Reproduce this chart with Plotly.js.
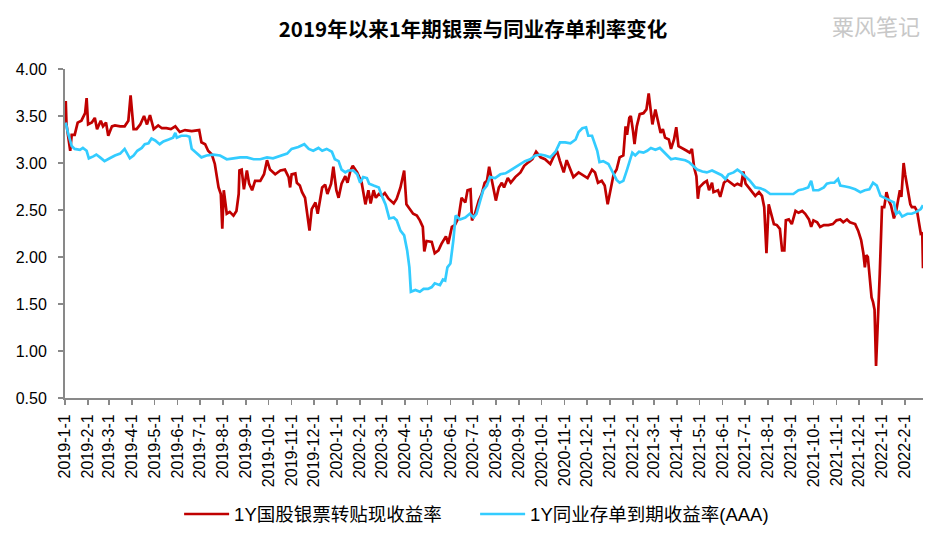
<!DOCTYPE html>
<html>
<head>
<meta charset="utf-8">
<script src="https://cdn.plot.ly/plotly-3.0.1.min.js"></script>
<style>
html,body{margin:0;padding:0;background:#fff;}
#chart{width:946px;height:546px;}
</style>
</head>
<body>
<div id="chart"></div>
<script>
// ---- data ----
const seriesNames = ['1Y国股银票转贴现收益率', '1Y同业存单到期收益率(AAA)'];

const billDates = [
'2019-01-02','2019-01-03','2019-01-08','2019-01-10','2019-01-14','2019-01-18','2019-01-23','2019-01-28','2019-01-30',
'2019-02-01','2019-02-06','2019-02-10','2019-02-13','2019-02-18','2019-02-21','2019-02-25','2019-02-28',
'2019-03-05','2019-03-09','2019-03-16','2019-03-22','2019-03-27','2019-03-30',
'2019-04-03','2019-04-07','2019-04-12','2019-04-17','2019-04-21','2019-04-25','2019-04-30',
'2019-05-06','2019-05-11','2019-05-17','2019-05-23','2019-05-29',
'2019-06-04','2019-06-11','2019-06-20','2019-06-30',
'2019-07-03','2019-07-08','2019-07-12','2019-07-17','2019-07-21','2019-07-26','2019-07-29','2019-07-31',
'2019-08-02','2019-08-06','2019-08-10','2019-08-15','2019-08-19','2019-08-22','2019-08-23','2019-08-26','2019-08-29',
'2019-09-02','2019-09-05','2019-09-09','2019-09-13','2019-09-20','2019-09-25','2019-09-29',
'2019-10-03','2019-10-10','2019-10-17','2019-10-23','2019-10-28','2019-10-30',
'2019-11-01','2019-11-06','2019-11-08','2019-11-12','2019-11-15','2019-11-19','2019-11-22','2019-11-25','2019-11-28',
'2019-12-03','2019-12-06','2019-12-12','2019-12-16','2019-12-19','2019-12-24','2019-12-27','2019-12-31',
'2020-01-03','2020-01-07','2020-01-12','2020-01-15','2020-01-19','2020-01-22','2020-01-28',
'2020-02-03','2020-02-05','2020-02-08','2020-02-12','2020-02-15','2020-02-19','2020-02-22','2020-02-26',
'2020-03-01','2020-03-05','2020-03-10','2020-03-17','2020-03-21','2020-03-26','2020-03-31',
'2020-04-03','2020-04-08','2020-04-12','2020-04-17','2020-04-21','2020-04-25','2020-04-27','2020-04-30',
'2020-05-07','2020-05-11','2020-05-16','2020-05-20','2020-05-26','2020-05-29',
'2020-06-03','2020-06-07','2020-06-12','2020-06-16','2020-06-21','2020-06-24','2020-06-28','2020-06-30',
'2020-07-04','2020-07-09','2020-07-13','2020-07-17','2020-07-20','2020-07-23','2020-07-27',
'2020-08-01','2020-08-05','2020-08-09','2020-08-12','2020-08-17','2020-08-21','2020-08-27',
'2020-09-03','2020-09-08','2020-09-14','2020-09-19','2020-09-24','2020-09-30',
'2020-10-06','2020-10-13','2020-10-17','2020-10-22','2020-10-26','2020-10-31',
'2020-11-04','2020-11-09','2020-11-13','2020-11-20','2020-11-27',
'2020-12-02','2020-12-08','2020-12-12','2020-12-16','2020-12-21','2020-12-25','2020-12-29',
'2021-01-06','2021-01-10','2021-01-14','2021-01-19','2021-01-22','2021-01-24','2021-01-27','2021-01-29',
'2021-02-01','2021-02-03','2021-02-06','2021-02-10','2021-02-15','2021-02-19','2021-02-22','2021-02-24','2021-02-27',
'2021-03-03','2021-03-06','2021-03-10','2021-03-13','2021-03-16','2021-03-21','2021-03-24','2021-03-28','2021-03-31',
'2021-04-03','2021-04-08','2021-04-14','2021-04-18','2021-04-21','2021-04-24','2021-04-27','2021-04-29',
'2021-05-01','2021-05-07','2021-05-11','2021-05-14','2021-05-18','2021-05-20','2021-05-26','2021-05-29',
'2021-06-03','2021-06-07','2021-06-12','2021-06-17','2021-06-21','2021-06-26','2021-06-29',
'2021-07-02','2021-07-06','2021-07-11','2021-07-15','2021-07-20','2021-07-24','2021-07-27','2021-07-30',
'2021-08-02','2021-08-05','2021-08-09','2021-08-13','2021-08-17','2021-08-20','2021-08-23','2021-08-25','2021-08-29',
'2021-09-02','2021-09-07','2021-09-11','2021-09-16','2021-09-20','2021-09-25','2021-09-28',
'2021-10-01','2021-10-06','2021-10-10','2021-10-15','2021-10-21','2021-10-27',
'2021-11-01','2021-11-06','2021-11-10','2021-11-15','2021-11-19','2021-11-26','2021-11-30',
'2021-12-04','2021-12-07','2021-12-09','2021-12-11','2021-12-13','2021-12-16','2021-12-18','2021-12-20','2021-12-22','2021-12-24','2021-12-26','2021-12-28','2021-12-29',
'2022-01-01','2022-01-04','2022-01-07','2022-01-10','2022-01-13','2022-01-17','2022-01-20','2022-01-22','2022-01-25','2022-01-27','2022-01-30',
'2022-02-01','2022-02-05','2022-02-08','2022-02-10','2022-02-14','2022-02-17','2022-02-19','2022-02-22','2022-02-24','2022-02-25'
];
const billRates = [
3.66,3.41,3.13,3.30,3.30,3.43,3.45,3.53,3.69,
3.41,3.43,3.48,3.36,3.45,3.39,3.43,3.29,
3.39,3.40,3.39,3.39,3.45,3.72,
3.36,3.36,3.41,3.50,3.41,3.51,3.36,
3.40,3.37,3.37,3.36,3.39,
3.33,3.35,3.34,3.35,
3.22,3.20,3.13,3.09,2.99,2.74,2.67,2.30,
2.71,2.46,2.48,2.44,2.49,2.67,2.92,2.93,2.72,
2.92,2.78,2.71,2.81,2.81,2.88,3.03,
2.93,2.88,2.92,2.93,2.85,2.74,
2.88,2.89,2.79,2.76,2.69,2.63,2.42,2.28,2.51,
2.58,2.46,2.74,2.77,2.67,2.78,2.96,2.71,
2.63,2.78,2.86,2.79,2.92,2.97,2.90,
2.79,2.71,2.56,2.71,2.57,2.71,2.63,2.67,
2.65,2.68,2.62,2.57,2.62,2.74,2.92,
2.56,2.51,2.46,2.44,2.39,2.32,2.06,2.17,
2.16,2.04,2.07,2.14,2.22,2.14,
2.32,2.34,2.42,2.63,2.58,2.71,2.72,2.39,
2.46,2.60,2.67,2.79,2.81,2.96,2.81,
2.60,2.74,2.79,2.74,2.84,2.79,2.85,
2.90,2.97,3.01,3.04,3.12,3.06,
3.04,2.99,3.06,3.13,3.02,2.90,
3.03,2.93,2.85,2.90,2.86,
2.84,2.93,2.90,2.79,2.81,2.76,2.56,
2.88,2.93,3.06,3.08,3.39,3.30,3.48,3.50,
3.34,3.20,3.39,3.52,3.53,3.57,3.74,3.59,3.41,
3.57,3.45,3.32,3.36,3.27,3.25,3.15,3.25,3.38,
3.18,3.16,3.13,3.11,3.15,2.95,2.86,2.62,
2.74,2.79,2.81,2.71,2.79,2.69,2.71,2.64,
2.79,2.82,2.79,2.76,2.78,2.76,2.91,
2.78,2.74,2.69,2.65,2.69,2.65,2.53,2.04,
2.56,2.46,2.35,2.34,2.30,2.07,2.07,2.39,2.40,
2.35,2.49,2.47,2.49,2.46,2.40,2.32,
2.39,2.37,2.32,2.34,2.34,2.35,
2.39,2.40,2.37,2.40,2.37,2.35,2.28,
2.18,2.04,1.89,2.02,2.00,1.75,1.57,1.52,1.44,0.84,1.33,1.68,1.82,
2.53,2.53,2.69,2.60,2.55,2.41,2.49,2.60,2.71,2.64,3.00,
2.88,2.71,2.56,2.53,2.53,2.49,2.41,2.25,2.26,1.88
];

const cdDates = [
'2019-01-02','2019-01-05','2019-01-10','2019-01-14','2019-01-21','2019-01-25','2019-01-30',
'2019-02-02','2019-02-08','2019-02-12','2019-02-17','2019-02-23',
'2019-03-02','2019-03-09','2019-03-16','2019-03-22','2019-03-29',
'2019-04-03','2019-04-08','2019-04-14','2019-04-18','2019-04-23','2019-04-27',
'2019-05-02','2019-05-08','2019-05-13','2019-05-20','2019-05-26','2019-05-29','2019-05-31',
'2019-06-06','2019-06-13','2019-06-17','2019-06-20','2019-06-26',
'2019-07-03','2019-07-10','2019-07-19','2019-07-28',
'2019-08-06','2019-08-15','2019-08-24',
'2019-09-02','2019-09-11','2019-09-20','2019-09-29',
'2019-10-07','2019-10-17','2019-10-26',
'2019-11-01','2019-11-10','2019-11-18','2019-11-24','2019-11-30',
'2019-12-07','2019-12-12','2019-12-18','2019-12-25','2019-12-29',
'2020-01-03','2020-01-07','2020-01-12','2020-01-16','2020-01-23','2020-01-28',
'2020-02-01','2020-02-05','2020-02-10','2020-02-13','2020-02-19','2020-02-26',
'2020-03-01','2020-03-06','2020-03-11','2020-03-17','2020-03-21','2020-03-26','2020-03-31',
'2020-04-04','2020-04-07','2020-04-09','2020-04-15','2020-04-21','2020-04-26',
'2020-05-02','2020-05-07','2020-05-11','2020-05-18','2020-05-22','2020-05-25','2020-05-28',
'2020-06-01','2020-06-05','2020-06-08','2020-06-14','2020-06-21','2020-06-27',
'2020-07-02','2020-07-06','2020-07-11','2020-07-15','2020-07-20','2020-07-24','2020-07-31',
'2020-08-07','2020-08-14','2020-08-20','2020-08-27',
'2020-09-03','2020-09-09','2020-09-16','2020-09-23','2020-09-30',
'2020-10-06','2020-10-13','2020-10-20','2020-10-26',
'2020-11-02','2020-11-09','2020-11-16','2020-11-20','2020-11-25','2020-11-30',
'2020-12-03','2020-12-08','2020-12-12','2020-12-15','2020-12-18','2020-12-23','2020-12-30',
'2021-01-06','2021-01-10','2021-01-14','2021-01-19','2021-01-24','2021-01-28','2021-01-31',
'2021-02-04','2021-02-09','2021-02-15','2021-02-20','2021-02-25',
'2021-03-03','2021-03-09','2021-03-14','2021-03-19','2021-03-24','2021-03-30',
'2021-04-06','2021-04-12','2021-04-17','2021-04-23','2021-04-28',
'2021-05-05','2021-05-11','2021-05-18','2021-05-25','2021-05-31',
'2021-06-05','2021-06-09','2021-06-16','2021-06-21','2021-06-26',
'2021-07-02','2021-07-08','2021-07-15','2021-07-22','2021-07-28',
'2021-08-04','2021-08-11','2021-08-17','2021-08-26',
'2021-09-04','2021-09-11','2021-09-17','2021-09-24','2021-09-28',
'2021-10-01','2021-10-08','2021-10-15','2021-10-19','2021-10-24','2021-10-29',
'2021-11-03','2021-11-06','2021-11-13','2021-11-19','2021-11-26',
'2021-12-03','2021-12-09','2021-12-15','2021-12-20','2021-12-25','2021-12-30',
'2022-01-05','2022-01-12','2022-01-17','2022-01-20','2022-01-24','2022-01-28',
'2022-02-04','2022-02-10','2022-02-16','2022-02-22','2022-02-25'
];
const cdRates = [
3.43,3.32,3.18,3.15,3.14,3.16,3.13,
3.05,3.07,3.09,3.06,3.02,
3.05,3.08,3.10,3.15,3.05,
3.08,3.13,3.16,3.20,3.21,3.26,
3.24,3.20,3.23,3.25,3.27,3.32,3.27,
3.29,3.29,3.28,3.15,3.11,
3.06,3.08,3.09,3.08,
3.04,3.05,3.06,
3.06,3.04,3.04,3.06,
3.05,3.08,3.10,
3.15,3.17,3.20,3.15,3.13,
3.16,3.13,3.15,3.12,3.04,
3.02,2.93,2.90,2.92,2.92,2.88,
2.79,2.85,2.84,2.78,2.76,2.74,
2.65,2.56,2.41,2.42,2.39,2.28,2.23,
2.07,1.89,1.63,1.65,1.63,1.66,
1.66,1.68,1.72,1.70,1.76,1.75,1.89,
1.93,2.18,2.44,2.40,2.42,2.46,
2.42,2.46,2.60,2.71,2.76,2.85,2.84,
2.88,2.89,2.92,2.95,
2.99,3.02,3.04,3.08,3.09,
3.08,3.06,3.12,3.22,
3.22,3.21,3.25,3.33,3.37,3.38,
3.29,3.29,3.20,3.13,3.01,3.02,2.99,
2.88,2.82,2.79,2.81,2.93,3.02,3.11,
3.08,3.12,3.11,3.13,3.16,
3.14,3.16,3.12,3.08,3.04,3.05,
3.04,3.03,3.01,2.97,2.93,
2.91,2.90,2.92,2.89,2.87,
2.83,2.88,2.90,2.93,2.90,
2.86,2.81,2.74,2.73,2.71,
2.67,2.67,2.67,2.67,
2.67,2.71,2.72,2.74,2.81,
2.71,2.71,2.74,2.78,2.79,2.79,
2.83,2.76,2.75,2.74,2.72,
2.69,2.71,2.72,2.79,2.76,2.65,
2.63,2.60,2.58,2.46,2.48,2.43,
2.46,2.46,2.48,2.51,2.55
];

const tickLabels = [
'2019-1-1','2019-2-1','2019-3-1','2019-4-1','2019-5-1','2019-6-1','2019-7-1','2019-8-1','2019-9-1','2019-10-1','2019-11-1','2019-12-1',
'2020-1-1','2020-2-1','2020-3-1','2020-4-1','2020-5-1','2020-6-1','2020-7-1','2020-8-1','2020-9-1','2020-10-1','2020-11-1','2020-12-1',
'2021-1-1','2021-2-1','2021-3-1','2021-4-1','2021-5-1','2021-6-1','2021-7-1','2021-8-1','2021-9-1','2021-10-1','2021-11-1','2021-12-1',
'2022-1-1','2022-2-1'
];
const xStart = '2019-01-01';
const xEnd = '2022-02-25';

// ---- build chart ----
const pad = s => s.split('-').map((p,i) => i === 0 ? p : p.padStart(2,'0')).join('-');
const tickVals = tickLabels.map(pad);

const fontFam = 'Arial, "Liberation Sans", "Noto Sans CJK SC", sans-serif';
const axisColor = '#898989';

const traces = [
  {x: billDates, y: billRates, name: seriesNames[0], type: 'scatter', mode: 'lines',
   line: {color: '#C00000', width: 2.7}},
  {x: cdDates, y: cdRates, name: seriesNames[1], type: 'scatter', mode: 'lines',
   line: {color: '#33CCFF', width: 2.7}}
];

const layout = {
  width: 946, height: 546,
  margin: {l: 65, r: 23, t: 69, b: 146, pad: 0},
  paper_bgcolor: '#ffffff', plot_bgcolor: '#ffffff',
  font: {family: fontFam, size: 16, color: '#000'},
  title: {
    text: '<b>2019年以来1年期银票与同业存单利率变化</b>',
    x: 0.5, xref: 'container', xanchor: 'center',
    y: 1 - 30/546, yref: 'container', yanchor: 'middle',
    font: {family: '"Noto Sans CJK SC", Arial, sans-serif', size: 20.5, color: '#000'}
  },
  xaxis: {
    type: 'date', range: [xStart, xEnd],
    tickmode: 'array', tickvals: tickVals, ticktext: tickLabels,
    tickangle: -90, ticks: 'outside', ticklen: 5, tickwidth: 1.5, tickcolor: axisColor,
    showline: true, linecolor: axisColor, linewidth: 2,
    showgrid: false, zeroline: false,
    tickfont: {family: fontFam, size: 16, color: '#000'},
    ticklabelstandoff: 3
  },
  yaxis: {
    range: [0.5, 4.0], dtick: 0.5, tick0: 0.5, tickformat: '.2f',
    ticks: 'outside', ticklen: 5, tickwidth: 1.5, tickcolor: axisColor,
    showline: true, linecolor: axisColor, linewidth: 2,
    showgrid: false, zeroline: false,
    tickfont: {family: fontFam, size: 16, color: '#000'},
    ticklabelstandoff: 8
  },
  showlegend: true,
  legend: {
    orientation: 'h', x: 0.133, xanchor: 'left', y: -0.354, yanchor: 'middle',
    font: {family: fontFam, size: 18.5, color: '#000'},
    bgcolor: 'rgba(0,0,0,0)', itemwidth: 45, entrywidth: 236, entrywidthmode: 'pixels'
  },
  annotations: [{
    text: '粟风笔记', xref: 'paper', yref: 'paper',
    x: (922 - 65) / 858, xanchor: 'right', y: 1 + (69.3 - 25) / 330.7, yanchor: 'middle',
    showarrow: false,
    font: {family: '"Noto Sans CJK SC", sans-serif', size: 22, color: '#C8C8C8'}
  }]
};

Plotly.newPlot('chart', traces, layout, {displayModeBar: false, staticPlot: true});
</script>
</body>
</html>
